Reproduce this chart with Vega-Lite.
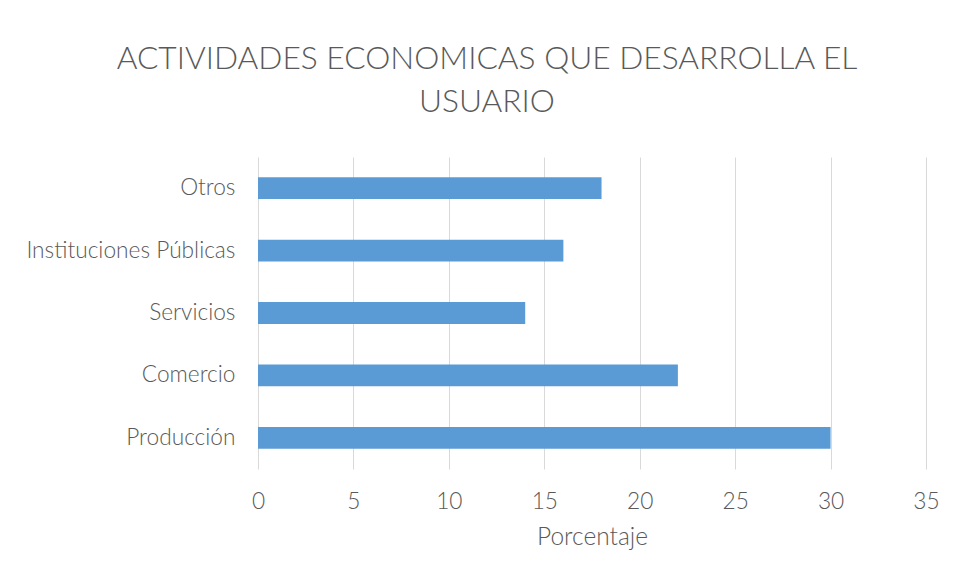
{
  "$schema": "https://vega.github.io/schema/vega-lite/v6.json",
  "width": 668,
  "height": 312,
  "autosize": {"type": "none"},
  "padding": {"left": 258, "top": 157, "right": 32, "bottom": 110},
  "background": "white",
  "title": {
    "text": ["ACTIVIDADES ECONOMICAS QUE DESARROLLA EL", "USUARIO"],
    "font": "Lato",
    "fontSize": 31.7,
    "fontWeight": 300,
    "color": "#595959",
    "anchor": "middle",
    "frame": "group",
    "dx": -105,
    "offset": 38,
    "lineHeight": 43
  },
  "data": {
    "values": [
      {"actividad": "Otros ", "porcentaje": 18},
      {"actividad": "Instituciones Públicas", "porcentaje": 16},
      {"actividad": "Servicios", "porcentaje": 14},
      {"actividad": "Comercio", "porcentaje": 22},
      {"actividad": "Producción", "porcentaje": 30}
    ]
  },
  "mark": {"type": "bar", "color": "#5b9bd5"},
  "encoding": {
    "y": {
      "field": "actividad",
      "type": "nominal",
      "sort": null,
      "scale": {"paddingInner": 0.65, "paddingOuter": 0.325},
      "axis": {
        "title": null,
        "domain": false,
        "ticks": false,
        "grid": false,
        "labelFont": "Lato",
        "labelFontSize": 22.7,
        "labelFontWeight": 300,
        "labelColor": "#595959",
        "labelPadding": 23,
        "labelLimit": 400
      }
    },
    "x": {
      "field": "porcentaje",
      "type": "quantitative",
      "scale": {"domain": [0, 35], "nice": false},
      "axis": {
        "values": [0, 5, 10, 15, 20, 25, 30, 35],
        "title": "Porcentaje",
        "titleFont": "Lato",
        "titleFontSize": 24.5,
        "titleFontWeight": 300,
        "titleColor": "#595959",
        "titlePadding": 13,
        "domain": false,
        "ticks": false,
        "grid": true,
        "gridColor": "#d9d9d9",
        "gridWidth": 1,
        "labelFont": "Lato",
        "labelFontSize": 22.7,
        "labelFontWeight": 300,
        "labelColor": "#595959",
        "labelPadding": 21,
        "labelFlush": false
      }
    }
  },
  "config": {"view": {"stroke": null}}
}
